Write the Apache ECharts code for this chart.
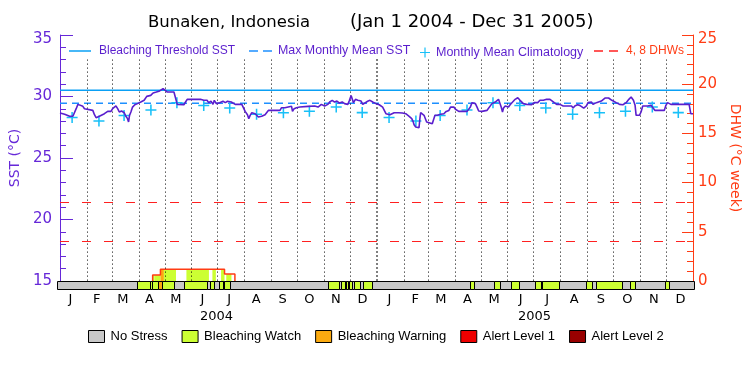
<!DOCTYPE html>
<html><head><meta charset="utf-8">
<script src="https://cdn.jsdelivr.net/npm/echarts@6/dist/echarts.min.js"></script>
<style>html,body{margin:0;padding:0;background:#fff}#c{width:750px;height:375px}</style>
</head><body><div id="c"></div>
<script>
// ---- data (x = days since 2004-01-01) ----
const sstPoints = [
[0,28.66],[5.4,28.55],[11.1,28.39],[14.9,28.39],[16.8,28.55],[18.7,29.01],[20.7,29.36],[22.6,29.42],[26.4,29.20],[28.3,29.01],
[30.2,28.87],[37.9,28.87],[39.8,28.52],[41.7,28.28],[45.5,28.39],[47.4,28.47],[51.3,28.60],[55.1,28.79],[58.9,28.79],[60.8,29.01],
[64.6,29.23],[66.6,29.01],[68.5,28.74],[71.1,28.82],[74.2,28.68],[76.1,28.39],[78,28.20],[79.2,27.93],[80.3,28.47],[81.9,28.74],
[83.8,29.14],[86.4,29.33],[89.5,29.42],[93.3,29.55],[97.2,29.69],[100.2,30.01],[104.8,30.09],[107.5,30.28],[109.4,30.15],[111.3,30.36],
[113.2,30.23],[115.1,30.45],[119,30.64],[120.9,30.50],[124,30.36],[131.6,30.36],[133.5,30.28],[135.4,29.36],[143.1,29.33],[145,29.55],
[146.9,29.77],[162.2,29.77],[166,29.69],[167.9,29.55],[169.8,29.69],[171.7,29.50],[174.4,29.61],[176.7,29.36],[178.2,29.69],[180.5,29.42],
[181.3,29.36],[184.4,29.50],[185.9,29.36],[188.2,29.61],[190.9,29.50],[193.5,29.61],[195.8,29.69],[197.8,29.55],[199.7,29.42],[202.3,29.36],
[210,29.36],[211.9,29.23],[213.8,28.79],[216.5,28.52],[218,28.20],[219.6,28.47],[221.5,28.68],[223.4,28.52],[225.3,28.60],[227.2,28.47],
[229.1,28.33],[231,28.25],[232.9,28.39],[234.9,28.41],[236.8,28.52],[238.7,28.47],[240.6,28.87],[254,28.87],[255.9,29.09],[259.7,29.09],
[261.6,29.14],[267.4,29.20],[268.5,28.79],[270.4,29.01],[273.1,29.09],[276.9,29.14],[286.5,29.20],[294.1,29.23],[298,29.14],[301.8,29.36],
[305.6,29.23],[309.4,29.36],[311.4,29.55],[314.4,29.69],[317.1,29.55],[319.8,29.63],[322.8,29.47],[325.9,29.55],[328.6,29.42],[330.5,29.50],
[332.4,29.36],[334.3,29.69],[336.2,30.09],[337.4,29.82],[338.9,29.50],[341.2,29.77],[343.9,29.69],[345.8,29.55],[347.7,29.63],[349.6,29.36],
[351.5,29.42],[355.3,29.61],[358,29.69],[361.1,29.55],[363,29.47],
[364.9,29.42],[368.7,29.33],[372.6,29.14],[376.4,28.60],[378.3,28.68],[381,28.52],[383.3,28.68],[385.9,28.68],[387.9,28.60],[390.9,28.68],
[395.5,28.66],[399.3,28.60],[401.2,28.52],[403.2,28.39],[406.2,28.20],[407.7,27.98],[408.9,27.71],[410.8,27.52],[412.7,27.46],[414.6,27.46],
[415.8,28.33],[416.5,28.68],[418.5,28.60],[420.4,28.47],[422.3,28.39],[423.4,27.93],[425.3,27.79],[429.9,27.79],[431.8,27.93],[433,28.47],
[435.7,28.47],[439.5,28.55],[443.3,28.60],[446,28.79],[449.1,28.87],[451,29.14],[452.9,29.23],[454.8,29.14],[456.7,28.96],[460.5,28.79],
[470.1,28.79],[473.9,29.14],[475.8,29.50],[477.7,29.55],[479.7,29.42],[481.6,29.14],[483.5,28.82],[487.3,28.79],[493,28.87],[495,29.01],
[498.8,29.42],[502.6,29.55],[506.4,29.77],[508.3,29.69],[509.5,29.14],[511,28.74],[512.2,29.06],[514.1,29.23],[516,29.28],[517.9,29.14],
[519.8,29.33],[521.7,29.42],[525.6,29.77],[528.6,29.90],[531.3,29.69],[533.2,29.61],[535.1,29.42],[538.9,29.36],[544.7,29.33],[547.7,29.50],
[548.6,29.47],[551.7,29.50],[554.3,29.69],[558.2,29.69],[562,29.77],[565.8,29.77],[567.7,29.69],[570.8,29.50],[573.5,29.36],[577.3,29.36],
[581.1,29.23],[586.9,29.23],[588.8,29.33],[590.7,29.23],[592.6,29.06],[594.5,29.23],[597.6,29.33],[600.2,29.28],[602.2,29.14],[604.8,29.06],
[607.9,29.23],[609.8,29.50],[613.6,29.55],[615.5,29.36],[617.5,29.42],[619.4,29.50],[621.3,29.55],[625.1,29.63],[627,29.69],[629.7,29.88],
[631.6,30.01],[633.5,29.88],[635.8,29.82],[637.3,29.69],[639.6,29.55],[642.3,29.50],[646.1,29.36],[650,29.33],[653.8,29.50],[656.9,29.77],
[659.5,29.96],[662.2,29.69],[664.1,29.28],[665.3,28.47],[669.1,28.47],[671,28.74],[672.9,29.23],[678.7,29.23],[682.5,29.28],[684.4,29.14],
[687.1,28.87],[697.8,28.87],[699.7,29.28],[701.6,29.50],[705.4,29.36],[726.5,29.36],[728.4,28.60],[730.3,28.66],[731,28.60]
];
const climMidDay = [14,45,74,105,135,166,196,227,258,288,319,349,380,411,439,470,500,531,561,592,623,653,684,714];
const climValue = [28.3,28.0,28.45,28.9,29.5,29.27,29.07,28.55,28.68,28.8,29.14,28.69,
                   28.3,28.0,28.45,28.9,29.5,29.27,29.07,28.55,28.68,28.8,29.14,28.69];
const bleachingThreshold = 30.5;
const maxMonthlyMean = 29.46;
const dhwLevels = [4, 8];
const dhwStepDay = [107, 116, 190, 202];
const dhwStepValue = [0.6, 1.2, 0.7, 0];
const stressStart = [0,92,107,109,116,120,134, 146,172,176,180,186,190,192,198,
  311,324,326,330,332,334,335,338,341,348,351,362,
  474,478,502,508,521,530,549,555,557,576,607,614,619,648,657,663,698,702];
const stressLevel = [0,1,1,1,2,1,0, 1,0,1,0,1,0,1,0,
  1,0,1,0,1,0,1,0,1,0,1,0,
  1,0,1,0,1,0,1,0,1,0,1,0,1,0,1,0,1,0];
const stressNames = ['No Stress','Bleaching Watch','Bleaching Warning','Alert Level 1','Alert Level 2'];
const stressColors = ['#c8c8c8','#ccff33','#fbaa10','#ee0000','#980000'];
const monthStartDay = [0,31,60,91,121,152,182,213,244,274,305,335,366,397,425,456,486,517,547,578,609,639,670,700,731];
const monthLetters = ['J','F','M','A','M','J','J','A','S','O','N','D','J','F','M','A','M','J','J','A','S','O','N','D'];
const yearLabels = ['2004','2005'];
const yearMidDay = [183, 548];
const totalDays = 731;

// ---- colours / styles ----
const PURPLE = '#5a1ecd', AXP = '#6628d8', ORANGE = '#ff3c14', BLUE = '#0aa0f5', DBLUE = '#1e90ff', CYAN = '#18c0f8', RED = '#ff2020';
const FONT = 'DejaVu Sans', FONT2 = 'Liberation Sans';

// ---- derived ----
const stressEnd = stressStart.map((s, i) => i + 1 < stressStart.length ? stressStart[i + 1] : totalDays);
const stressData = stressStart.map((s, i) => [s, stressEnd[i], stressLevel[i]]);
const dhwFill = [];
stressStart.forEach((s, i) => {
  const lv = stressLevel[i]; if (!lv) return;
  const e = stressEnd[i];
  dhwStepDay.forEach((a, j) => {
    const b = j + 1 < dhwStepDay.length ? dhwStepDay[j + 1] : totalDays;
    const v = dhwStepValue[j]; if (v <= 0) return;
    const lo = Math.max(s, a), hi = Math.min(e, b);
    if (hi > lo) dhwFill.push([lo, hi, v, lv]);
  });
});
const dhwLine = [[dhwStepDay[0], 0]];
let prev = 0;
dhwStepDay.forEach((d, j) => { dhwLine.push([d, prev]); dhwLine.push([d, dhwStepValue[j]]); prev = dhwStepValue[j]; });
const monthMid = monthLetters.map((m, i) => (monthStartDay[i] + monthStartDay[i + 1]) / 2);
const monthLines = monthStartDay.slice(1, -1).map(d => {
  const a = { coord: [d, 33] };
  if (d === 366) a.lineStyle = { width: 2 };
  return [a, { coord: [d, 15] }];
});

const chart = echarts.init(document.getElementById('c'), null, { renderer: 'canvas' });
const legendText = { fontFamily: FONT2, fontSize: 12, color: PURPLE };
chart.setOption({
  animation: false,
  backgroundColor: '#fff',
  title: [
    { text: 'Bunaken, Indonesia', left: 148, top: 14, padding: 0, textStyle: { fontFamily: FONT, fontSize: 16.5, fontWeight: 'normal', color: '#000' } },
    { text: '(Jan 1 2004 - Dec 31 2005)', left: 350, top: 13, padding: 0, textStyle: { fontFamily: FONT, fontSize: 18, fontWeight: 'normal', color: '#000' } }
  ],
  legend: [
    { left: 69, top: 45, padding: 0, itemWidth: 22, itemHeight: 1.5, symbolKeepAspect: false, selectedMode: false,
      data: [{ name: 'Bleaching Threshold SST', icon: 'path://M0,0H22V1H0Z', itemStyle: { color: BLUE, borderWidth: 0 } }],
      textStyle: Object.assign({ padding: [0, 0, 0, 3] }, legendText) },
    { left: 249, top: 45, padding: 0, itemWidth: 23, itemHeight: 1.5, symbolKeepAspect: false, selectedMode: false,
      data: [{ name: 'Max Monthly Mean SST', icon: 'path://M0,0H9V1H0ZM14,0H23V1H14Z', itemStyle: { color: DBLUE, borderWidth: 0 } }],
      textStyle: Object.assign({}, legendText, { fontSize: 12.4, padding: [0, 0, 0, 1] }) },
    { left: 420, top: 46, padding: 0, itemWidth: 10, itemHeight: 10, symbolKeepAspect: false, selectedMode: false,
      data: [{ name: 'Monthly Mean Climatology', icon: 'path://M0,4.4H10V5.6H0ZM4.4,0H5.6V10H4.4Z', itemStyle: { color: CYAN, borderWidth: 0 } }],
      textStyle: Object.assign({}, legendText, { fontSize: 12.5, padding: [0, 0, 0, 1] }) },
    { left: 594, top: 45, padding: 0, itemWidth: 24, itemHeight: 1.5, symbolKeepAspect: false, selectedMode: false,
      data: [{ name: '4, 8 DHWs', icon: 'path://M0,0H9V1H0ZM15,0H24V1H15Z', itemStyle: { color: RED, borderWidth: 0 } }],
      textStyle: Object.assign({}, legendText, { color: ORANGE, padding: [0, 0, 0, 3] }) },
    { left: 88, top: 330, padding: 0, itemWidth: 16, itemHeight: 12, itemGap: 14, selectedMode: false, icon: 'rect',
      itemStyle: { borderColor: '#000', borderWidth: 1 },
      data: stressNames,
      textStyle: { fontFamily: FONT2, fontSize: 13, color: '#000', padding: [0, 0, 0, 1] } }
  ],
  grid: [
    { left: 57, right: 56, top: 35, height: 246, containLabel: false },
    { left: 57, right: 56, top: 281, height: 9, containLabel: false }
  ],
  xAxis: [
    { gridIndex: 0, type: 'value', min: 0, max: totalDays, position: 'top',
      axisLine: { show: true, lineStyle: { color: '#000', width: 1 } }, axisTick: { show: false }, axisLabel: { show: false }, splitLine: { show: false } },
    { gridIndex: 1, type: 'value', min: 0, max: totalDays, position: 'bottom',
      axisLine: { show: false }, axisTick: { show: false }, splitLine: { show: false },
      axisLabel: { customValues: monthMid, margin: 3, fontFamily: FONT, fontSize: 13, color: '#000',
        formatter: v => { const i = monthMid.indexOf(v); return i >= 0 ? monthLetters[i] : ''; } } },
    { gridIndex: 1, type: 'value', min: 0, max: totalDays, position: 'bottom', offset: 15,
      axisLine: { show: false }, axisTick: { show: false }, splitLine: { show: false },
      axisLabel: { customValues: yearMidDay, margin: 5, fontFamily: FONT, fontSize: 13, color: '#000',
        formatter: v => { const i = yearMidDay.indexOf(v); return i >= 0 ? yearLabels[i] : ''; } } }
  ],
  yAxis: [
    { gridIndex: 0, type: 'value', min: 15, max: 35, interval: 5, position: 'left',
      axisLine: { show: true, lineStyle: { color: AXP, width: 1 } },
      axisTick: { show: true, inside: true, length: 13, lineStyle: { color: AXP } },
      minorTick: { show: true, splitNumber: 5, length: 6, lineStyle: { color: AXP } },
      splitLine: { show: false },
      axisLabel: { color: AXP, fontFamily: FONT, fontSize: 15, margin: 8,
        formatter: v => v === 35 ? '{t|35}' : String(v), rich: { t: { color: AXP, fontFamily: FONT, fontSize: 15, padding: [9, 0, 0, 0] } } },
      name: 'SST (°C)', nameLocation: 'middle', nameRotate: 90, nameGap: 31,
      nameTextStyle: { color: AXP, fontFamily: FONT, fontSize: 14 } },
    { gridIndex: 0, type: 'value', min: 0, max: 25, interval: 5, position: 'right',
      axisLine: { show: true, lineStyle: { color: ORANGE, width: 1 } },
      axisTick: { show: true, inside: true, length: 11, lineStyle: { color: ORANGE } },
      minorTick: { show: true, splitNumber: 5, length: 6, lineStyle: { color: ORANGE } },
      splitLine: { show: false },
      axisLabel: { color: ORANGE, fontFamily: FONT, fontSize: 15, margin: 5,
        formatter: v => v === 25 ? '{t|25}' : String(v), rich: { t: { color: ORANGE, fontFamily: FONT, fontSize: 15, padding: [9, 0, 0, 0] } } },
      name: 'DHW (°C week)', nameLocation: 'middle', nameRotate: -90, nameGap: 25,
      nameTextStyle: { color: ORANGE, fontFamily: FONT, fontSize: 14 } },
    { gridIndex: 1, type: 'value', min: 0, max: 1, show: false }
  ],
  series: [
    { type: 'line', name: 'months', xAxisIndex: 0, yAxisIndex: 0, data: [], z: 1,
      markLine: { silent: true, symbol: 'none', label: { show: false }, animation: false,
        lineStyle: { type: [1, 3], color: '#000', width: 1 }, data: monthLines } },
    { type: 'line', name: 'Bleaching Threshold SST', xAxisIndex: 0, yAxisIndex: 0, symbol: 'none', z: 3,
      itemStyle: { color: BLUE }, lineStyle: { color: BLUE, width: 1.5 },
      data: [[0, bleachingThreshold], [totalDays, bleachingThreshold]] },
    { type: 'line', name: 'Max Monthly Mean SST', xAxisIndex: 0, yAxisIndex: 0, symbol: 'none', z: 3,
      itemStyle: { color: DBLUE }, lineStyle: { color: DBLUE, width: 1.5, type: [7, 5] },
      data: [[0, maxMonthlyMean], [totalDays, maxMonthlyMean]] },
    { type: 'line', name: '4, 8 DHWs', xAxisIndex: 0, yAxisIndex: 1, symbol: 'none', data: [], z: 2,
      itemStyle: { color: RED },
      markLine: { silent: true, symbol: 'none', label: { show: false }, animation: false,
        lineStyle: { type: [9, 13], color: RED, width: 1 }, data: dhwLevels.map(v => ({ yAxis: v })) } },
    { type: 'custom', name: 'dhwFill', xAxisIndex: 0, yAxisIndex: 1, z: 2, data: dhwFill,
      encode: { x: [0, 1], y: 2 },
      renderItem: (params, api) => {
        const p0 = api.coord([api.value(0), api.value(2)]);
        const p1 = api.coord([api.value(1), 0]);
        return { type: 'rect', shape: { x: p0[0], y: p0[1], width: p1[0] - p0[0], height: p1[1] - p0[1] },
          style: { fill: stressColors[api.value(3)] } };
      } },
    { type: 'line', name: 'DHW', xAxisIndex: 0, yAxisIndex: 1, symbol: 'none', z: 4,
      lineStyle: { color: ORANGE, width: 1.5 }, data: dhwLine },
    { type: 'scatter', name: 'Monthly Mean Climatology', xAxisIndex: 0, yAxisIndex: 0, z: 5,
      symbol: 'path://M0,4.3H10V5.7H0ZM4.3,0H5.7V10H4.3Z', symbolSize: 11,
      itemStyle: { color: CYAN, opacity: 1 },
      data: climMidDay.map((d, i) => [d, climValue[i]]) },
    { type: 'line', name: 'SST', xAxisIndex: 0, yAxisIndex: 0, symbol: 'none', z: 6,
      lineStyle: { color: PURPLE, width: 1.6 }, data: sstPoints },
    { type: 'custom', name: 'stress', xAxisIndex: 1, yAxisIndex: 2, z: 7, data: stressData,
      encode: { x: [0, 1], y: 2 },
      renderItem: (params, api) => {
        const p0 = api.coord([api.value(0), 1]);
        const p1 = api.coord([api.value(1), 0]);
        const x0 = Math.round(p0[0]) + 0.5, x1 = Math.round(p1[0]) + 0.5;
        const y0 = Math.round(p0[1]) + 0.5, y1 = Math.round(p1[1]) - 0.5;
        return { type: 'rect', shape: { x: x0, y: y0, width: x1 - x0, height: y1 - y0 },
          style: { fill: stressColors[api.value(2)], stroke: '#000', lineWidth: 1 } };
      } }
  ].concat(stressNames.map((n, i) => ({ type: 'bar', name: n, xAxisIndex: 1, yAxisIndex: 2, data: [],
      itemStyle: { color: stressColors[i], borderColor: '#000', borderWidth: 1 } })))
});
</script>
</body></html>
